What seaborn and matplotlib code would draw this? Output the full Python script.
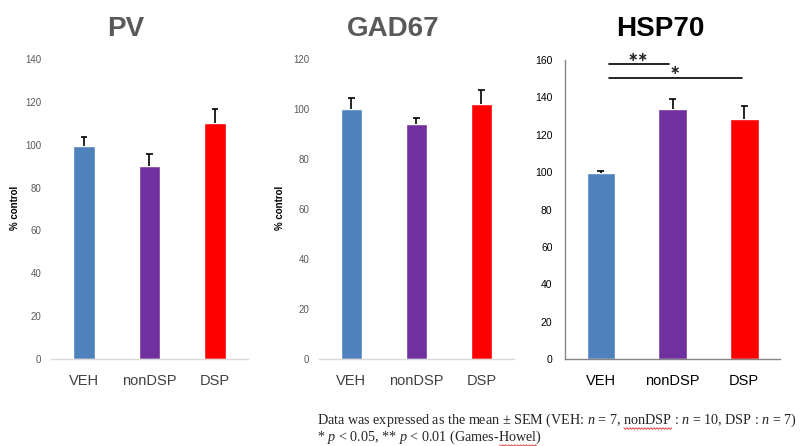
import numpy as np
import matplotlib
matplotlib.use("Agg")
import matplotlib.pyplot as plt
import seaborn as sns

# data
groups = ["VEH", "nonDSP", "DSP"]
bar_colors = ["#4F81BD", "#7030A0", "#FF0000"]

pv_mean = [99.5, 90.0, 110.0]
pv_sem = [4.3, 5.5, 6.5]

gad_mean = [100.0, 94.0, 102.0]
gad_sem = [4.4, 2.4, 5.7]

hsp_mean = [99.6, 134.0, 128.3]
hsp_sem = [0.9, 5.0, 7.0]

sig_pairs = [(0, 1, "**"), (0, 2, "*")]

sns.set_style("white")
plt.rcParams["font.family"] = ["Liberation Sans", "DejaVu Sans"]
plt.rcParams["mathtext.fontset"] = "custom"
plt.rcParams["mathtext.rm"] = "Liberation Serif"
plt.rcParams["mathtext.it"] = "Liberation Serif:italic"

W, H = 803, 446
fig = plt.figure(figsize=(W / 100, H / 100), dpi=100)


def px_axes(x0, x1, y_top, y_bot):
    return fig.add_axes([x0 / W, 1 - y_bot / H, (x1 - x0) / W, (y_bot - y_top) / H])


def draw_bars(ax, means, sems, width):
    sns.barplot(x=groups, y=means, hue=groups, palette=bar_colors, order=groups,
                hue_order=groups, saturation=1, width=width, legend=False, ax=ax)
    # upper error bars only, like the excel original
    xs = np.arange(len(means))
    tops = np.array(means) + np.array(sems)
    ax.vlines(xs, means, tops, color="black", lw=1.2, zorder=3)
    ax.hlines(tops, xs - 0.05, xs + 0.05, color="black", lw=1.2, zorder=3)
    ax.set_xlim(-0.5, len(means) - 0.5)
    ax.set_xlabel("")
    ax.set_ylabel("")


def light_panel(ax, means, sems, ymax, width, title, tx, ylab_x):
    draw_bars(ax, means, sems, width)
    ax.set_ylim(0, ymax)
    ax.set_yticks(np.arange(0, ymax + 1, 20))
    for s in ["top", "right", "left"]:
        ax.spines[s].set_visible(False)
    ax.spines["bottom"].set_color("#D9D9D9")
    ax.spines["bottom"].set_linewidth(1.0)
    ax.tick_params(axis="y", length=0, pad=7, labelsize=7, labelcolor="#595959")
    ax.tick_params(axis="x", length=0, pad=11, labelsize=10.5, labelcolor="#404040")
    fig.text(tx / W, 1 - 29 / H, title, ha="center", va="center",
             fontsize=20, fontweight="bold", color="#595959")
    fig.text(ylab_x / W, 1 - 208 / H, "% control", rotation=90, ha="center",
             va="center", fontsize=7, fontweight="bold", color="black")


ax1 = px_axes(51, 248, 59, 359)
light_panel(ax1, pv_mean, pv_sem, 140, 0.335, "PV", 126, 15)

ax2 = px_axes(319, 514, 59, 359)
light_panel(ax2, gad_mean, gad_sem, 120, 0.31, "GAD67", 393, 280)

# HSP70 panel, different excel style
ax3 = px_axes(565, 780, 60, 359)
draw_bars(ax3, hsp_mean, hsp_sem, 0.4)
ax3.set_ylim(0, 160)
ax3.set_yticks(np.arange(0, 161, 20))
for s in ["top", "right"]:
    ax3.spines[s].set_visible(False)
for s in ["left", "bottom"]:
    ax3.spines[s].set_color("#868686")
    ax3.spines[s].set_linewidth(1.0)
ax3.tick_params(axis="y", length=3, width=1, color="#868686", pad=6,
                labelsize=7.5, labelcolor="black")
ax3.set_xticks(np.arange(-0.5, 3, 1), minor=True)
ax3.tick_params(axis="x", which="minor", length=4, width=1, color="#868686")
ax3.tick_params(axis="x", which="major", length=0, pad=11, labelsize=10.5,
                labelcolor="black")
fig.text(660 / W, 1 - 29 / H, "HSP70", ha="center", va="center",
         fontsize=20, fontweight="bold", color="black")

# significance brackets
line_y = [158.0, 150.4]
star_x = [0.52, 1.03]
star_base = [159.5, 152.5]
for (a, b, stars), ly, sx, sb in zip(sig_pairs, line_y, star_x, star_base):
    x_end = b - 0.03 if b == 2 else b - 0.05
    ax3.plot([a + 0.114, x_end], [ly, ly], color="black", lw=1.2, clip_on=False)
    ax3.text(sx, sb, "\u2217" * len(stars), ha="center", va="baseline",
             fontsize=9, fontweight="bold", family="DejaVu Sans", clip_on=False)

# footnote, one text block with two lines
line1 = ("Data was expressed as the mean \u00b1 SEM (VEH: $n$ = 7, nonDSP : $n$ = 10, "
         "DSP : $n$ = 7)")
line2 = "* $p$ < 0.05, ** $p$ < 0.01 (Games-Howel)"
foot_kw = dict(fontsize=10.2, family="Liberation Serif", ha="left")
note = fig.text(317 / W, 1 - 412 / H, line1 + "\n" + line2, va="top",
                linespacing=0.95, **foot_kw)

# red spell-check squiggles under nonDSP and Howel
fig.canvas.draw()
rend = fig.canvas.get_renderer()
nb = note.get_window_extent(rend)
bottom_px = H - nb.y0
top_px = H - nb.y1
line_h = (bottom_px - top_px) / 2


def text_span(prefix, word):
    t1 = fig.text(317 / W, 0, prefix, **foot_kw)
    t2 = fig.text(317 / W, 0, prefix + word, **foot_kw)
    x0 = t1.get_window_extent(rend).x1
    x1 = t2.get_window_extent(rend).x1
    t1.remove()
    t2.remove()
    return x0, x1


for prefix, word, by in [("Data was expressed as the mean \u00b1 SEM (VEH: $n$ = 7, ", "nonDSP",
                          top_px + line_h - 0.5),
                         ("* $p$ < 0.05, ** $p$ < 0.01 (Games-", "Howel", bottom_px - 0.5)]:
    x0, x1 = text_span(prefix, word)
    if prefix.endswith(", "):
        x0 += 2
    xs = np.arange(x0, x1, 1.5)
    ys = by + np.where(np.arange(len(xs)) % 2 == 0, -0.8, 0.8)
    fig.add_artist(plt.Line2D(xs / W, 1 - ys / H, color="#E03030", lw=0.6,
                              transform=fig.transFigure))

fig.savefig("out.png", dpi=100)
